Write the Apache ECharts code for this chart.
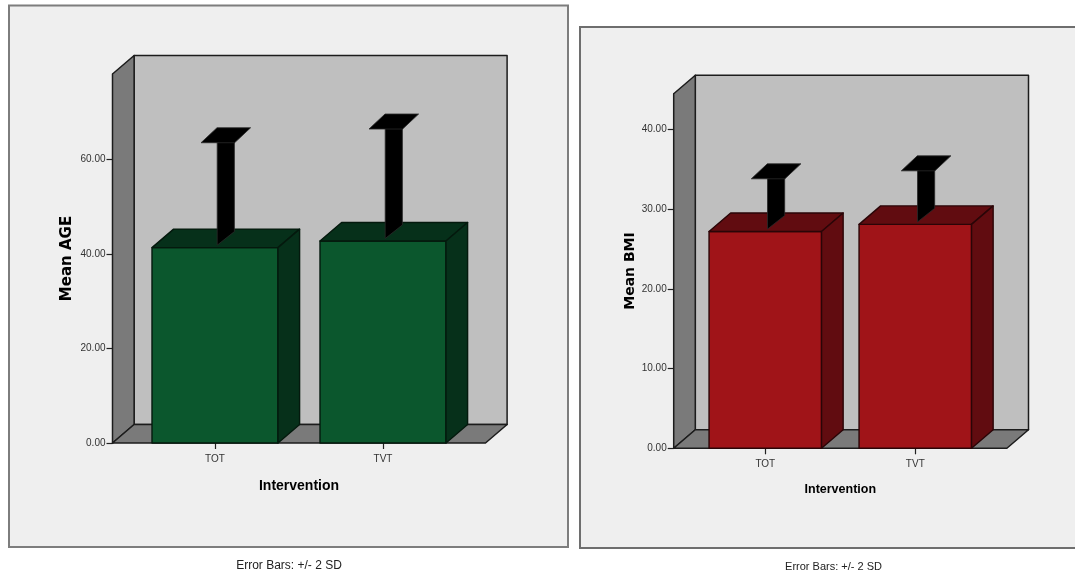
<!DOCTYPE html>
<html>
<head>
<meta charset="utf-8">
<style>html,body{margin:0;padding:0;background:#fff}#c{width:1075px;height:577px}</style>
<script src="https://cdn.jsdelivr.net/npm/echarts@6/dist/echarts.min.js"></script>
</head>
<body>
<div id="c"></div>
<script>
var categories = ['TOT', 'TVT'];
var ageMean = [41.3, 42.7];
var ageUpper = [63.1, 66.0];
var bmiMean = [27.2, 28.1];
var bmiUpper = [33.6, 34.6];
var ageTicks = [0, 20, 40, 60];
var bmiTicks = [0, 10, 20, 30, 40];

var SANS = '"Liberation Sans",Arial,sans-serif';
var DX = 21.6, DY = 18.5;

function wallRender(pad) {
  return function (params, api) {
    var c = params.coordSys;
    var L = c.x - pad, R = c.x + c.width + pad, T = c.y, B = c.y + c.height;
    var st = { stroke: '#1c1c1c', lineWidth: 1.5, lineJoin: 'round' };
    return { type: 'group', children: [
      { type: 'polygon', shape: { points: [[L + DX, T - DY], [R + DX, T - DY], [R + DX, B - DY], [L + DX, B - DY]] },
        style: Object.assign({ fill: '#bfbfbf' }, st) },
      { type: 'polygon', shape: { points: [[L, B], [L, T], [L + DX, T - DY], [L + DX, B - DY]] },
        style: Object.assign({ fill: '#7a7a7a' }, st) },
      { type: 'polygon', shape: { points: [[L, B], [R, B], [R + DX, B - DY], [L + DX, B - DY]] },
        style: Object.assign({ fill: '#7a7a7a' }, st) }
    ] };
  };
}

function barRender(front, dark, edge) {
  return function (params, api) {
    var base = api.coord([api.value(0), 0]);
    var top = api.coord([api.value(0), api.value(1)]);
    var upper = api.coord([api.value(0), api.value(2)]);
    var w = api.size([1, 0])[0] * 0.75;
    var x0 = base[0] - w / 2, x1 = base[0] + w / 2, yT = top[1], yB = base[1];
    var st = { stroke: edge, lineWidth: 1.4, lineJoin: 'round' };
    // error bar sits in the middle of the bar's depth
    var cx = base[0] + DX / 2, cyB = yT - DY / 2, cyT = upper[1] - DY / 2;
    var sx = 8.6, sy = 6.8, capW = 16.8, capX = 8, capY = 7.5;
    var eb = { fill: '#000', stroke: '#2a2a2a', lineWidth: 0.8, lineJoin: 'round' };
    return { type: 'group', children: [
      { type: 'polygon', shape: { points: [[x0, yB], [x0, yT], [x1, yT], [x1, yB]] },
        style: Object.assign({ fill: front }, st) },
      { type: 'polygon', shape: { points: [[x0, yT], [x0 + DX, yT - DY], [x1 + DX, yT - DY], [x1, yT]] },
        style: Object.assign({ fill: dark }, st) },
      { type: 'polygon', shape: { points: [[x1, yT], [x1 + DX, yT - DY], [x1 + DX, yB - DY], [x1, yB]] },
        style: Object.assign({ fill: dark }, st) },
      { type: 'polygon', shape: { points: [[cx - sx, cyB + sy], [cx + sx, cyB - sy], [cx + sx, cyT], [cx - sx, cyT + capY]] },
        style: eb },
      { type: 'polygon', shape: { points: [
          [cx - capX - capW, cyT + capY], [cx - capX + capW, cyT + capY],
          [cx + capX + capW, cyT - capY], [cx + capX - capW, cyT - capY]] },
        style: eb }
    ] };
  };
}

function rows(means, uppers) {
  return categories.map(function (c, i) { return [i, means[i], uppers[i]]; });
}

function yAxisOf(idx, max, ticks, offset, name, size, gap) {
  return {
    type: 'value', gridIndex: idx, min: 0, max: max, offset: offset,
    name: name, nameLocation: 'middle', nameGap: gap,
    nameTextStyle: { fontFamily: '"DejaVu Sans",sans-serif', fontWeight: 'bold', fontSize: size, color: '#000' },
    axisLine: { show: true, lineStyle: { color: '#1c1c1c', width: 1.5 } },
    axisTick: { show: true, length: 6, customValues: ticks, lineStyle: { color: '#222', width: 1.2 } },
    axisLabel: { customValues: ticks, margin: 7, fontFamily: SANS, fontSize: 10, color: '#333',
      formatter: function (v) { return v.toFixed(2); } },
    splitLine: { show: false }
  };
}

function xAxisOf(idx, size, gap) {
  return {
    type: 'category', gridIndex: idx, data: categories,
    name: 'Intervention', nameLocation: 'middle', nameGap: gap,
    nameTextStyle: { fontFamily: SANS, fontWeight: 'bold', fontSize: size, color: '#000' },
    axisLine: { show: false },
    axisTick: { show: true, alignWithLabel: true, length: 6, lineStyle: { color: '#222', width: 1.2 } },
    axisLabel: { margin: 11, fontFamily: SANS, fontSize: 10, color: '#333' },
    splitLine: { show: false }
  };
}

var option = {
  animation: false,
  backgroundColor: '#ffffff',
  graphic: [
    { type: 'rect', z: -5, shape: { x: 9, y: 5.5, width: 559, height: 541.5 },
      style: { fill: '#efefef', stroke: '#7d7d7d', lineWidth: 2 } },
    { type: 'rect', z: -5, shape: { x: 580, y: 27, width: 520, height: 521 },
      style: { fill: '#efefef', stroke: '#6e6e6e', lineWidth: 2 } }
  ],
  title: [
    { text: 'Error Bars: +/- 2 SD', left: 284, top: 555, textAlign: 'center',
      textStyle: { fontFamily: SANS, fontWeight: 'normal', fontSize: 12, color: '#222' } },
    { text: 'Error Bars: +/- 2 SD', left: 828.5, top: 556, textAlign: 'center',
      textStyle: { fontFamily: SANS, fontWeight: 'normal', fontSize: 11, color: '#222' } }
  ],
  grid: [
    { left: 131, top: 74, width: 336, height: 369 },
    { left: 690.3, top: 93.7, width: 300, height: 354.6 }
  ],
  xAxis: [xAxisOf(0, 14, 36), xAxisOf(1, 12.5, 35)],
  yAxis: [
    yAxisOf(0, 78, ageTicks, 18.5, 'Mean AGE', 15, 38),
    yAxisOf(1, 44.5, bmiTicks, 16.6, 'Mean BMI', 14, 33)
  ],
  series: [
    { type: 'custom', xAxisIndex: 0, yAxisIndex: 0, silent: true, z: 1, data: [[0, 0]], renderItem: wallRender(18.5) },
    { type: 'custom', xAxisIndex: 1, yAxisIndex: 1, silent: true, z: 1, data: [[0, 0]], renderItem: wallRender(16.6) },
    { type: 'custom', name: 'Mean AGE', xAxisIndex: 0, yAxisIndex: 0, silent: true, z: 3, clip: false,
      encode: { x: 0, y: [1, 2] }, data: rows(ageMean, ageUpper),
      renderItem: barRender('#0b572d', '#06301a', '#04190d') },
    { type: 'custom', name: 'Mean BMI', xAxisIndex: 1, yAxisIndex: 1, silent: true, z: 3, clip: false,
      encode: { x: 0, y: [1, 2] }, data: rows(bmiMean, bmiUpper),
      renderItem: barRender('#a01418', '#610c10', '#2a0507') }
  ]
};
echarts.init(document.getElementById('c'), null, { renderer: 'canvas' }).setOption(option);
</script>
</body>
</html>
